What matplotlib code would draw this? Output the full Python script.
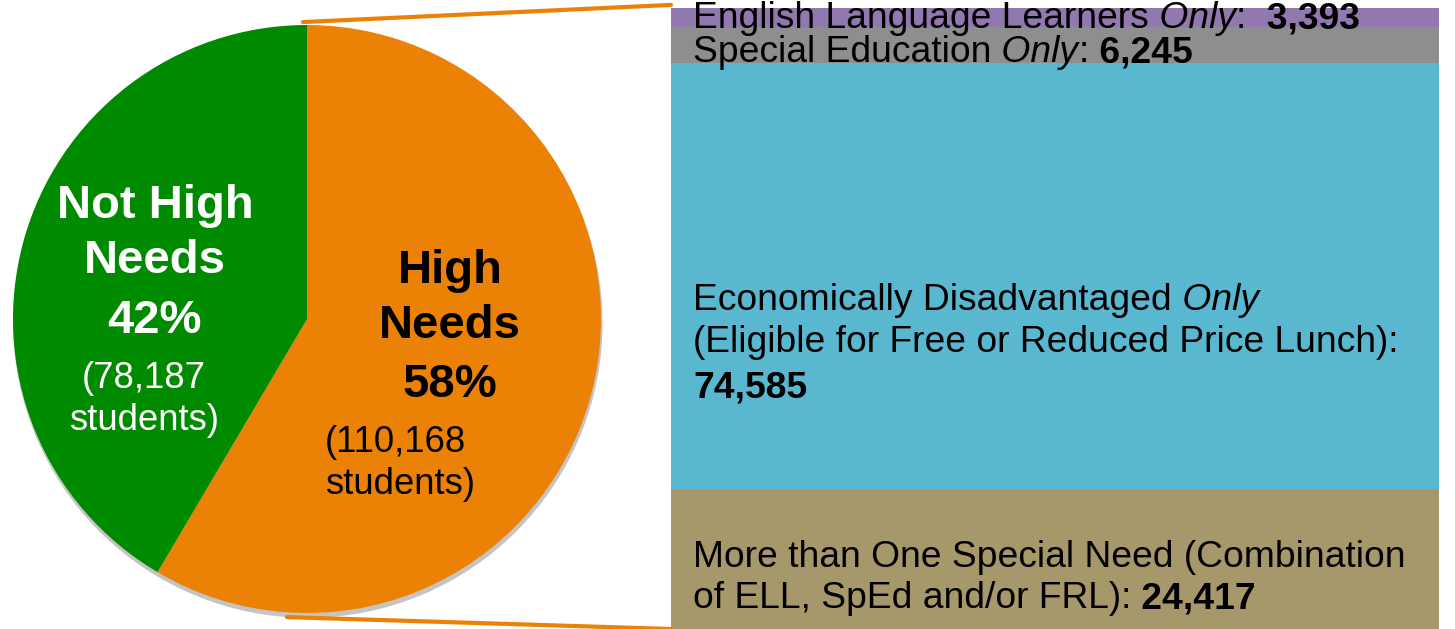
import matplotlib
matplotlib.use('Agg')
import matplotlib.pyplot as plt
import matplotlib.transforms as mtransforms
from matplotlib.patches import ConnectionPatch, Circle

plt.rcParams['font.family'] = ['Liberation Sans', 'DejaVu Sans']

# pie: students by high-needs status
pie_labels = ['High Needs', 'Not High Needs']
pie_counts = [110168, 78187]
pie_colors = ['#EB8205', '#008A00']

# breakdown of high-needs students (top to bottom)
seg_names = ['ELL only', 'SpEd only', 'Econ only', 'More than one']
seg_values = [3393, 6245, 74585, 24417]
seg_colors = ['#9178AE', '#8E8E8E', '#5AB7D0', '#A6986A']

W, H = 1455, 629
fig = plt.figure(figsize=(W / 100, H / 100), dpi=100)
renderer = fig.canvas.get_renderer()

# pie axes (center ~ (307,319) px, radius 294 px)
R = 294
half = 300
ax_pie = fig.add_axes([(307 - half) / W, (H - 319 - half) / H, 2 * half / W, 2 * half / H])
ax_pie.add_patch(Circle((0.003, -0.014), 1, color='#c4c4c4', zorder=0))
ax_pie.pie(pie_counts, colors=pie_colors, startangle=90, counterclock=False,
           wedgeprops=dict(linewidth=0))
ax_pie.set_xlim(-half / R, half / R)
ax_pie.set_ylim(-half / R, half / R)
ax_pie.axis('off')

# stacked bar axes
bx0, bx1, by0, by1 = 671, 1439, 8, 629
ax_bar = fig.add_axes([bx0 / W, (H - by1) / H, (bx1 - bx0) / W, (by1 - by0) / H])
total = sum(seg_values)
bottoms = []
cum = 0
for v, c in zip(seg_values, seg_colors):
    ax_bar.bar(0, v, bottom=cum, width=1, color=c, linewidth=0)
    bottoms.append(cum)
    cum += v
ax_bar.set_xlim(-0.5, 0.5)
ax_bar.set_ylim(total, 0)
ax_bar.axis('off')

# zoom lines
con_top = ConnectionPatch(xyA=(-0.014, 1.01), coordsA=ax_pie.transData,
                          xyB=(-0.5, -total * 0.005), coordsB=ax_bar.transData,
                          color='#EB8205', lw=3)
con_bot = ConnectionPatch(xyA=(-0.068, -1.014), coordsA=ax_pie.transData,
                          xyB=(-0.5, total), coordsB=ax_bar.transData,
                          color='#EB8205', lw=3)
fig.add_artist(con_top)
fig.add_artist(con_bot)


def rich_text(ax, trans, x, y, runs, size, color='black'):
    # draw text pieces one after another with different styles
    for s, weight, style in runs:
        t = ax.text(x, y, s, transform=trans, fontsize=size, fontweight=weight,
                    fontstyle=style, color=color, va='baseline', ha='left')
        w = t.get_window_extent(renderer).width
        trans = mtransforms.offset_copy(trans, fig=fig, x=w, units='dots')


bar_size = 26.8
blend = mtransforms.blended_transform_factory(ax_bar.transAxes, ax_bar.transData)
tx = (693 - bx0) / (bx1 - bx0)
seg_text = [
    [[('English Language Learners', 'normal', 'normal'), (' Only', 'normal', 'italic'),
      (':', 'normal', 'normal'), ('  ' + f'{seg_values[0]:,}', 'bold', 'normal')]],
    [[('Special Education', 'normal', 'normal'), (' Only', 'normal', 'italic'),
      (':', 'normal', 'normal'), (' ' + f'{seg_values[1]:,}', 'bold', 'normal')]],
    [[('Economically Disadvantaged', 'normal', 'normal'), (' Only', 'normal', 'italic')],
     [('(Eligible for Free or Reduced Price Lunch):', 'normal', 'normal')],
     [(f'{seg_values[2]:,}', 'bold', 'normal')]],
    [[('More than One Special Need (Combination', 'normal', 'normal')],
     [('of ELL, SpEd and/or FRL):', 'normal', 'normal'), (' ' + f'{seg_values[3]:,}', 'bold', 'normal')]],
]
# baseline offsets (px, downward) from each segment's middle
seg_offsets = [[10.5], [17], [34, 76, 121], [8, 49]]
for i, lines in enumerate(seg_text):
    mid = bottoms[i] + seg_values[i] / 2
    for runs, off in zip(lines, seg_offsets[i]):
        tr = mtransforms.offset_copy(blend, fig=fig, x=0, y=-off, units='dots')
        rich_text(ax_bar, tr, tx, mid, runs, bar_size)

# pie labels (pixel coordinates)
ax_txt = fig.add_axes([0, 0, 1, 1])
ax_txt.set_xlim(0, W)
ax_txt.set_ylim(H, 0)
ax_txt.axis('off')
share = [round(100 * c / sum(pie_counts)) for c in pie_counts]

for s, y in [('Not High', 218), ('Needs', 273), (f'{share[1]}%', 333)]:
    ax_txt.text(155, y, s, color='white', fontsize=34, fontweight='bold', ha='center', va='baseline')
for s, y in [(f'({pie_counts[1]:,}', 388), ('students)', 430)]:
    ax_txt.text(144, y, s, color='white', fontsize=26.3, ha='center', va='baseline')

for s, y in [('High', 283), ('Needs', 338), (f'{share[0]}%', 397)]:
    ax_txt.text(450, y, s, color='black', fontsize=34, fontweight='bold', ha='center', va='baseline')
for s, y in [(f'({pie_counts[0]:,}', 452), ('students)', 494)]:
    ax_txt.text(325, y, s, color='black', fontsize=26.3, ha='left', va='baseline')

fig.savefig('out.png', dpi=100)
